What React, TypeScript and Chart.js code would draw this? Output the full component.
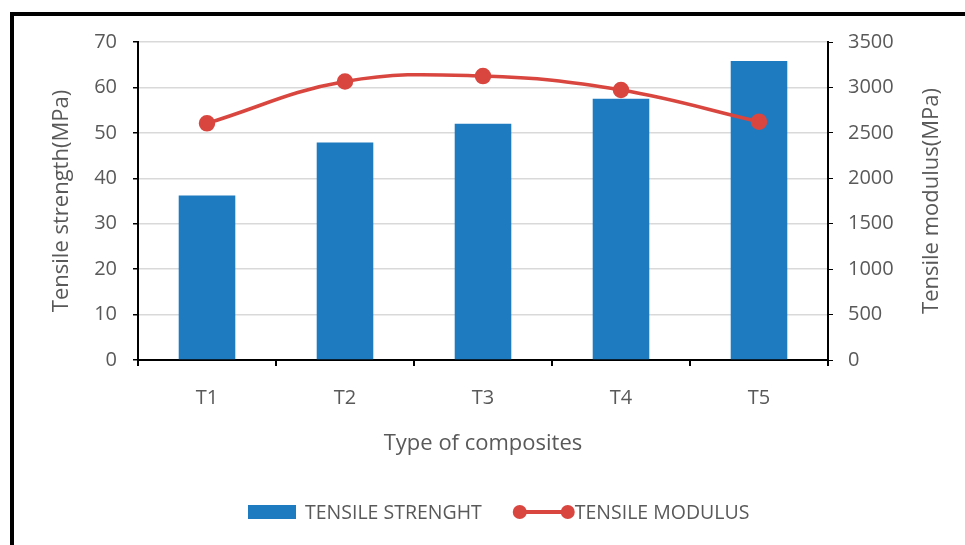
import React, { useEffect, useRef } from "react";
import { Chart, registerables } from "chart.js";

Chart.register(...registerables);

const categories = ["T1", "T2", "T3", "T4", "T5"];
const tensileStrength = [36.2, 47.9, 52.0, 57.5, 65.8];
const tensileModulus = [2605, 3065, 3125, 2972, 2623];

const strengthLabel = "TENSILE STRENGHT";
const modulusLabel = "TENSILE MODULUS";
const strengthAxisTitle = "Tensile strength(MPa)";
const modulusAxisTitle = "Tensile modulus(MPa)";
const categoryAxisTitle = "Type of composites";

const BLUE = "#1f7bbf";
const RED = "#d9463f";
const TEXT = "#595959";
const FONT = "'Open Sans', 'Noto Sans', sans-serif";

// Right-hand axis title, reading bottom to top like the left one
const rightAxisTitle = {
  id: "rightAxisTitle",
  afterDraw(chart: any) {
    const { ctx, chartArea, width } = chart;
    ctx.save();
    ctx.font = `22px ${FONT}`;
    ctx.fillStyle = TEXT;
    ctx.textAlign = "center";
    ctx.textBaseline = "middle";
    ctx.translate(width - 33, (chartArea.top + chartArea.bottom) / 2);
    ctx.rotate(-Math.PI / 2);
    ctx.fillText(modulusAxisTitle, 0, 0);
    ctx.restore();
  },
};

// Legend drawn as a coloured box and a line with markers on both ends
const bottomLegend = {
  id: "bottomLegend",
  afterDraw(chart: any) {
    const { ctx, chartArea } = chart;
    const y = chartArea.bottom + 152;
    let x = chartArea.left + 110;
    ctx.save();
    ctx.font = `19.5px ${FONT}`;
    ctx.textBaseline = "middle";
    ctx.textAlign = "left";

    // bar entry
    const bar = chart.data.datasets[0];
    ctx.fillStyle = bar.backgroundColor;
    ctx.fillRect(x, y - 7, 48, 14);
    x += 57;
    ctx.fillStyle = TEXT;
    ctx.fillText(bar.label, x, y + 1);
    x += ctx.measureText(bar.label).width + 38;

    // line entry
    const line = chart.data.datasets[1];
    ctx.strokeStyle = line.borderColor;
    ctx.lineWidth = 4;
    ctx.beginPath();
    ctx.moveTo(x, y);
    ctx.lineTo(x + 48, y);
    ctx.stroke();
    ctx.fillStyle = line.pointBackgroundColor;
    for (const cx of [x, x + 48]) {
      ctx.beginPath();
      ctx.arc(cx, y, 7, 0, Math.PI * 2);
      ctx.fill();
    }
    x += 55;
    ctx.fillStyle = TEXT;
    ctx.fillText(line.label, x, y + 1);
    ctx.restore();
  },
};

export default function App() {
  const canvasRef = useRef<HTMLCanvasElement | null>(null);

  useEffect(() => {
    const canvas = canvasRef.current;
    if (!canvas) return;
    Chart.defaults.font.family = FONT;
    Chart.defaults.color = TEXT;

    const chart = new Chart(canvas, {
      type: "bar",
      data: {
        labels: categories,
        datasets: [
          {
            type: "bar",
            label: strengthLabel,
            data: tensileStrength,
            backgroundColor: BLUE,
            barPercentage: 0.41,
            categoryPercentage: 1,
            yAxisID: "y",
            order: 1,
          },
          {
            type: "line",
            label: modulusLabel,
            data: tensileModulus,
            borderColor: RED,
            backgroundColor: RED,
            pointBackgroundColor: RED,
            pointBorderColor: RED,
            pointRadius: 6.5,
            borderWidth: 3.5,
            tension: 0.4,
            yAxisID: "y1",
            order: 0,
          } as any,
        ],
      },
      options: {
        responsive: false,
        animation: false,
        layout: { padding: { left: 0, right: 0, top: 42, bottom: 85 } },
        plugins: {
          legend: { display: false },
          tooltip: { enabled: false },
        },
        scales: {
          x: {
            z: 1,
            grid: {
              offset: true,
              drawOnChartArea: false,
              drawTicks: true,
              tickLength: 6,
              tickColor: "#000",
              lineWidth: 2,
            },
            border: { color: "#000", width: 2 },
            ticks: { font: { size: 20 }, color: TEXT, padding: 20 },
            title: {
              display: true,
              text: categoryAxisTitle,
              font: { size: 22 },
              color: TEXT,
              padding: { top: 0, bottom: 3 },
            },
            afterFit(scale: any) {
              scale.height = 100;
            },
          },
          y: {
            position: "left",
            min: 0,
            max: 70,
            ticks: { stepSize: 10, font: { size: 20 }, color: TEXT, padding: 16 },
            grid: {
              color: "#d9d9d9",
              lineWidth: 1.5,
              tickColor: "#000",
              tickLength: 5,
            },
            border: { color: "#000", width: 2 },
            title: {
              display: true,
              text: strengthAxisTitle,
              font: { size: 22 },
              color: TEXT,
              padding: { top: 49, bottom: 0 },
            },
            afterFit(scale: any) {
              scale.width = 138;
            },
          },
          y1: {
            position: "right",
            min: 0,
            max: 3500,
            ticks: {
              stepSize: 500,
              font: { size: 20 },
              color: TEXT,
              padding: 15,
              callback: (v: any) => String(v),
            },
            grid: {
              drawOnChartArea: false,
              tickColor: "#000",
              tickLength: 5,
            },
            border: { color: "#000", width: 2 },
            title: { display: false },
            afterFit(scale: any) {
              scale.width = 137;
            },
          },
        },
      },
      plugins: [rightAxisTitle, bottomLegend],
    });

    return () => chart.destroy();
  }, []);

  return (
    <div
      style={{
        position: "fixed",
        left: 0,
        top: 0,
        width: 965,
        height: 545,
        overflow: "hidden",
        background: "#fff",
      }}
    >
      <div
        style={{
          position: "absolute",
          left: 10,
          top: 12,
          width: 1000,
          height: 600,
          border: "4px solid #000",
        }}
      />
      <canvas
        ref={canvasRef}
        width={965}
        height={545}
        style={{ position: "absolute", left: 0, top: 0 }}
      />
    </div>
  );
}
